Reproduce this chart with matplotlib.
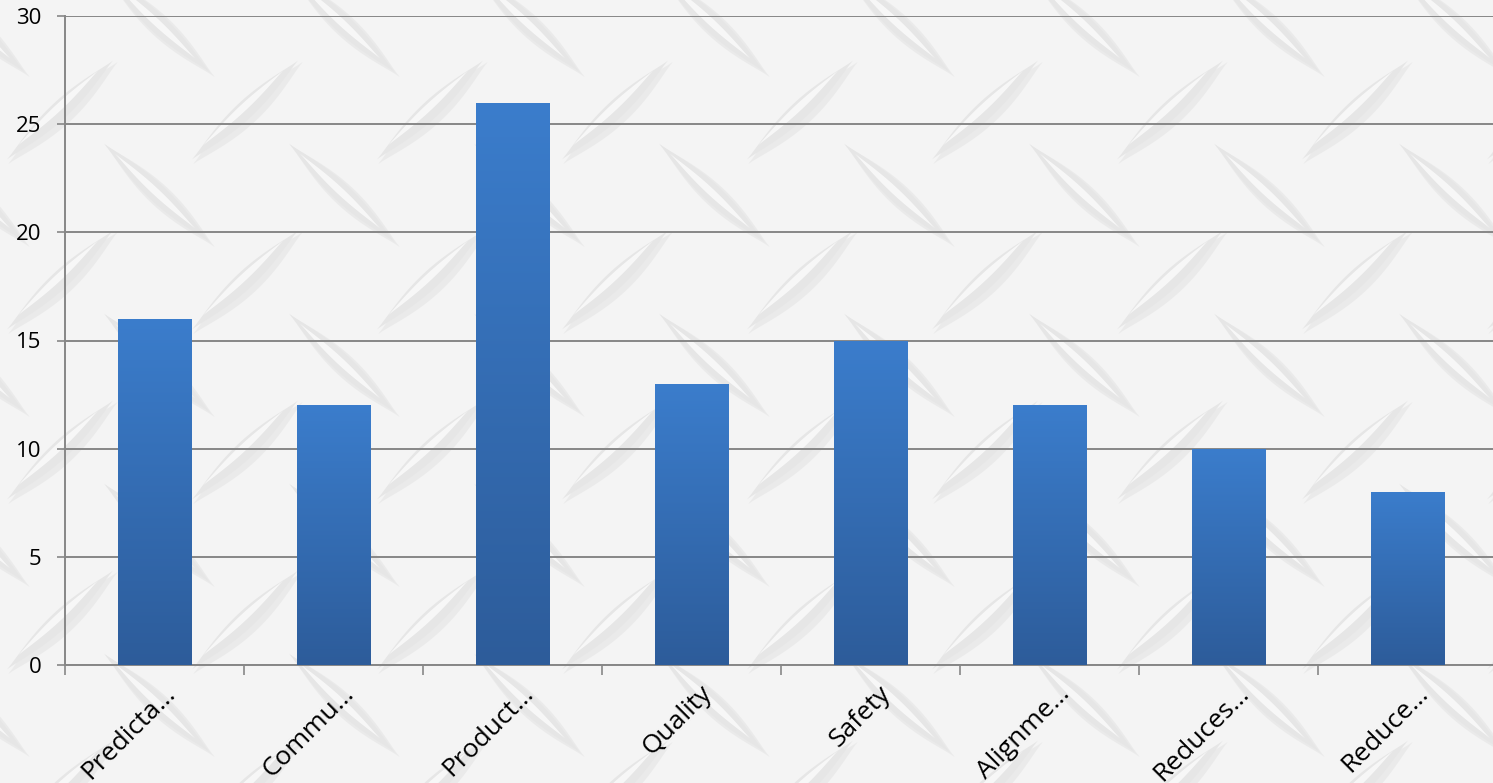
"""Bar chart on a diamond-plate background"""
import matplotlib
matplotlib.use('Agg')
import matplotlib.pyplot as plt
import numpy as np
from matplotlib.patches import Polygon
from matplotlib.colors import LinearSegmentedColormap
import matplotlib.transforms as mtransforms

plt.rcParams['font.family'] = ['Open Sans', 'DejaVu Sans']

# Data
categories = ['Predicta…', 'Commu…', 'Product…', 'Quality', 'Safety',
              'Alignme…', 'Reduces…', 'Reduce…']
values = [16, 12, 26, 13, 15, 12, 10, 8]
y_ticks = [0, 5, 10, 15, 20, 25, 30]

# Colors
BG = '#f4f4f4'
GRID = '#878787'
BAR_TOP = '#3b7dcc'
BAR_BOTTOM = '#2d5c9a'

W, H = 1493, 783
fig = plt.figure(figsize=(W / 100, H / 100), dpi=100, facecolor=BG)

# --- diamond plate texture (decorative) ---
bg = fig.add_axes([0, 0, 1, 1])
bg.set_xlim(0, W)
bg.set_ylim(H, 0)
bg.axis('off')
bg.set_zorder(-5)


def lens(cx, cy, ang, length=145, thick=18, n=30):
    t = np.linspace(-1, 1, n)
    xs = t * length / 2
    w = thick / 2 * (1 - t ** 2) ** 1.3
    xx = np.concatenate([xs, xs[::-1]])
    yy = np.concatenate([w, -w[::-1]])
    a = np.deg2rad(ang)
    px = cx + xx * np.cos(a) - yy * np.sin(a)
    py = cy + xx * np.sin(a) + yy * np.cos(a)
    return np.column_stack([px, py])


dx, dy = 185, 170
for j in range(-1, 6):
    for i in range(-1, 10):
        for (ox, oy, ang) in [(60, 110, -43), (157, 193, 43)]:
            cx = ox + i * dx
            cy = oy + j * dy
            bg.add_patch(Polygon(lens(cx + 3, cy + 3, ang, 150, 22),
                                 facecolor='#d9d9d9', edgecolor='none', alpha=0.35))
            bg.add_patch(Polygon(lens(cx, cy, ang, 145, 18),
                                 facecolor='#e6e6e6', edgecolor='none'))
            bg.add_patch(Polygon(lens(cx - 2, cy - 2, ang, 110, 7),
                                 facecolor='#fafafa', edgecolor='none', alpha=0.9))

# --- main chart ---
left = 65 / W
bottom = (H - 665) / H
top = (H - 16) / H
ax = fig.add_axes([left, bottom, 1432 / W, top - bottom])
ax.set_facecolor('none')

x = np.arange(len(categories))
bars = ax.bar(x, values, width=0.41, color=BAR_TOP, zorder=3)

cmap = LinearSegmentedColormap.from_list('bar', [BAR_BOTTOM, BAR_TOP])
grad = np.linspace(0, 1, 256).reshape(-1, 1)
for b in bars:
    x0 = b.get_x()
    im = ax.imshow(grad, cmap=cmap, origin='lower', aspect='auto',
                   extent=[x0, x0 + b.get_width(), 0, b.get_height()], zorder=4)
    im.set_clip_path(b)

ax.set_xlim(-0.5, len(categories) - 0.5)
ax.set_ylim(0, 30)
ax.set_yticks(y_ticks)
ax.yaxis.grid(True, color=GRID, linewidth=1.4, zorder=1)
ax.set_axisbelow(True)

for s in ['top', 'right']:
    ax.spines[s].set_visible(False)
for s in ['left', 'bottom']:
    ax.spines[s].set_color(GRID)
    ax.spines[s].set_linewidth(1.4)

ax.tick_params(axis='y', length=6, width=1.2, color=GRID, labelsize=16,
               labelcolor='black', pad=11)
ax.set_xticks(np.arange(len(categories) + 1) - 0.5)
ax.set_xticklabels([])
ax.tick_params(axis='x', length=7, width=1.2, color=GRID)

offset = mtransforms.ScaledTranslation(8 / 100, -16 / 100, fig.dpi_scale_trans)
for xi, lab in zip(x, categories):
    ax.text(xi, 0, lab, rotation=45, ha='right', va='top',
            rotation_mode='anchor', fontsize=19, color='black',
            transform=ax.get_xaxis_transform() + offset)

fig.savefig('out.png', dpi=100, facecolor=BG)
plt.close()
